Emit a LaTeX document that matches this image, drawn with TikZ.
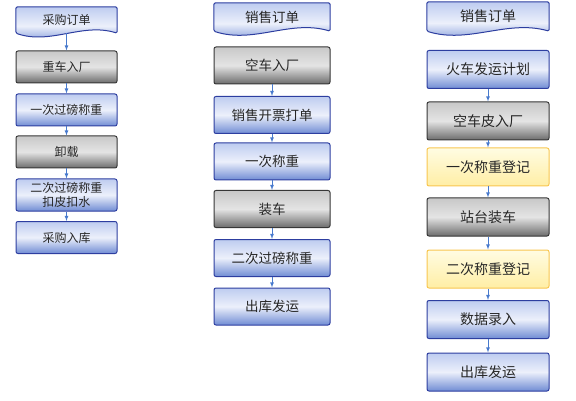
\documentclass[tikz,border=0pt]{standalone}
\usepackage{fontspec}
\newfontfamily\cjk{Noto Sans CJK SC}
\usetikzlibrary{arrows,backgrounds}
\definecolor{boxblue}{RGB}{45,62,160}
\definecolor{bluetop}{RGB}{190,204,240}
\definecolor{bluemid}{RGB}{236,240,251}
\definecolor{bluebot}{RGB}{112,140,212}
\definecolor{boxgray}{RGB}{55,55,55}
\definecolor{graytop}{RGB}{200,200,200}
\definecolor{graymid}{RGB}{228,228,228}
\definecolor{graybot}{RGB}{108,108,108}
\definecolor{boxyellow}{RGB}{248,198,80}
\definecolor{yellowtop}{RGB}{255,252,226}
\definecolor{yellowbot}{RGB}{255,238,165}
\definecolor{arrowblue}{RGB}{72,122,205}

\begin{document}
\begin{tikzpicture}[x=1pt, y=-1pt,
    box/.style={rounded corners=2pt, align=center, text=black!85, inner sep=0pt},
    bluebox/.style={box, draw=boxblue, line width=1pt, top color=bluetop, bottom color=bluebot, middle color=bluemid},
    graybox/.style={box, draw=boxgray, line width=1pt, top color=graytop, bottom color=graybot, middle color=graymid},
    yellowbox/.style={box, draw=boxyellow, line width=1pt, top color=yellowtop, bottom color=yellowbot},
    docbox/.style={box},
    bluedoc/.style={draw=boxblue, line width=1pt, rounded corners=1.5pt, top color=bluetop, bottom color=bluebot, middle color=bluemid},
    colA/.style={font=\cjk\fontsize{12}{14}\selectfont, minimum width=101pt, minimum height=32pt},
    colB/.style={font=\cjk\fontsize{13.5}{15}\selectfont, minimum width=116pt, minimum height=37pt},
    colC/.style={font=\cjk\fontsize{14}{16}\selectfont, minimum width=122pt, minimum height=38pt},
    flow/.style={draw=arrowblue, line width=0.8pt, -latex}]
    \useasboundingbox (0,0) rectangle (576,401);

    % purchase
    \node[docbox, colA, minimum height=26pt] (po) at (66.5,20) {采购订单};
    \node[graybox, colA] (fullin) at (66.5,67) {重车入厂};
    \node[bluebox, colA] (weighA) at (66.5,110) {一次过磅称重};
    \node[graybox, colA] (unload) at (66.5,152) {卸载};
    \node[bluebox, colA] (weighB) at (66.5,195) {二次过磅称重\\扣皮扣水};
    \node[bluebox, colA] (store) at (66.5,237.5) {采购入库};

    \draw[flow] (po) -- (fullin);
    \draw[flow] (fullin) -- (weighA);
    \draw[flow] (weighA) -- (unload);
    \draw[flow] (unload) -- (weighB);
    \draw[flow] (weighB) -- (store);

    % sales by truck
    \node[docbox, colB, minimum height=28pt] (so) at (272,17) {销售订单};
    \node[graybox, colB] (emptyin) at (272,65.5) {空车入厂};
    \node[bluebox, colB] (ticket) at (272,115) {销售开票打单};
    \node[bluebox, colB] (tare) at (272,161.5) {一次称重};
    \node[graybox, colB] (load) at (272,209) {装车};
    \node[bluebox, colB] (gross) at (272,258) {二次过磅称重};
    \node[bluebox, colB] (ship) at (272,306.5) {出库发运};

    \draw[flow] (emptyin) -- (ticket);
    \draw[flow] (ticket) -- (tare);
    \draw[flow] (tare) -- (load);
    \draw[flow] (load) -- (gross);
    \draw[flow] (gross) -- (ship);

    % sales by rail
    \node[docbox, colC, minimum height=29pt] (rso) at (488,16.5) {销售订单};
    \node[bluebox, colC] (plan) at (488,69.5) {火车发运计划};
    \node[graybox, colC] (wagonin) at (488,121) {空车皮入厂};
    \node[yellowbox, colC] (regA) at (488,167) {一次称重登记};
    \node[graybox, colC] (platform) at (488,217) {站台装车};
    \node[yellowbox, colC] (regB) at (488,269) {二次称重登记};
    \node[bluebox, colC] (entry) at (488,319.5) {数据录入};
    \node[bluebox, colC] (rship) at (488,372) {出库发运};

    \draw[flow] (plan) -- (wagonin);
    \draw[flow] (wagonin) -- (regA);
    \draw[flow] (regA) -- (platform);
    \draw[flow] (platform) -- (regB);
    \draw[flow] (regB) -- (entry);
    \draw[flow] (entry) -- (rship);

    % wavy order sheets
    \begin{scope}[on background layer]
        \path[bluedoc] (po.north west) -- (po.north east) -- (po.south east)
            .. controls +(-35,-11) and +(35,12) .. (po.south west) -- cycle;
        \path[bluedoc] (so.north west) -- (so.north east) -- (so.south east)
            .. controls +(-40,-12) and +(40,13) .. (so.south west) -- cycle;
        \path[bluedoc] (rso.north west) -- (rso.north east) -- (rso.south east)
            .. controls +(-42,-12) and +(42,13) .. (rso.south west) -- cycle;
    \end{scope}
\end{tikzpicture}
\end{document}
